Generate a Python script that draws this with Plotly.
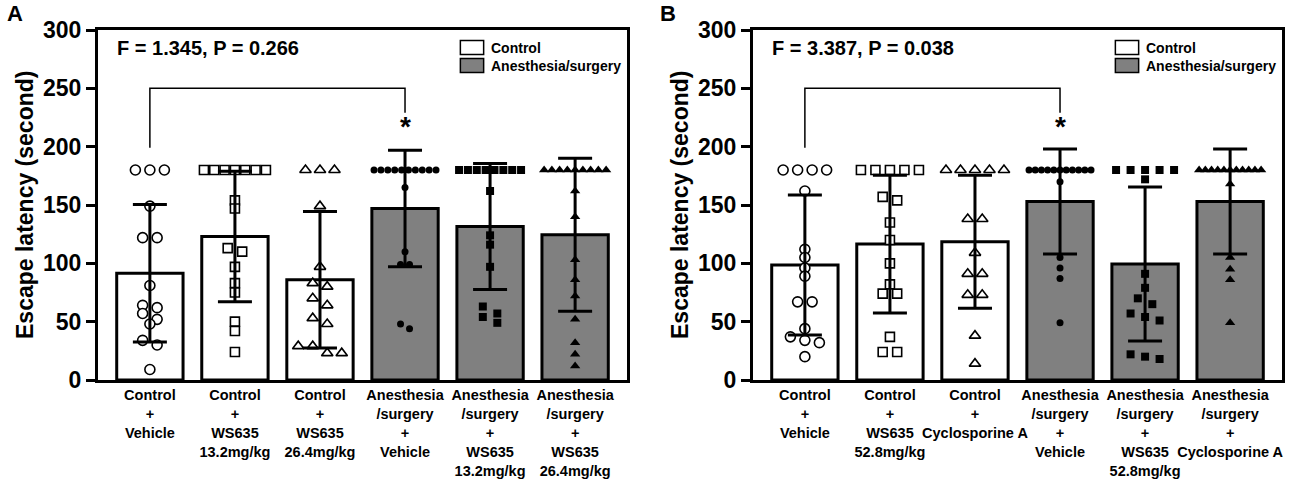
import plotly.graph_objects as go

# ---------------- data ----------------
labels_A = ["Control<br>+<br>Vehicle",
            "Control<br>+<br>WS635<br>13.2mg/kg",
            "Control<br>+<br>WS635<br>26.4mg/kg",
            "Anesthesia<br>/surgery<br>+<br>Vehicle",
            "Anesthesia<br>/surgery<br>+<br>WS635<br>13.2mg/kg",
            "Anesthesia<br>/surgery<br>+<br>WS635<br>26.4mg/kg"]
labels_B = ["Control<br>+<br>Vehicle",
            "Control<br>+<br>WS635<br>52.8mg/kg",
            "Control<br>+<br>Cyclosporine A",
            "Anesthesia<br>/surgery<br>+<br>Vehicle",
            "Anesthesia<br>/surgery<br>+<br>WS635<br>52.8mg/kg",
            "Anesthesia<br>/surgery<br>+<br>Cyclosporine A"]

mean_A = [91.5, 123, 86, 147, 131.5, 124.5]
sd_A = [59, 56, 58.5, 50, 54, 65.5]
mean_B = [98.5, 116.5, 118.5, 153, 99.5, 153]
sd_B = [60, 59, 57, 45, 66, 45]

pts_A = [
    [180, 180, 180, 149, 122, 122, 81, 64, 62, 57, 52, 48, 34, 30, 9],
    [180] * 7 + [154, 147, 113, 110, 97, 83, 75, 50, 42, 24],
    [180, 180, 180, 149, 97, 83, 80, 70, 64, 53, 48, 29, 29, 23, 23],
    [180] * 10 + [165, 110, 99, 99, 48, 44],
    [180] * 8 + [162, 124, 116, 97, 63, 57, 54, 49],
    [180] * 9 + [162, 140, 103, 86, 72, 52, 32, 22, 12],
]
pts_B = [
    [180] * 4 + [162, 112, 105, 96, 89, 67, 67, 44, 37, 34, 32, 20],
    [180] * 5 + [157, 154, 135, 120, 100, 82, 74, 74, 37, 24, 24],
    [180] * 5 + [138, 138, 109, 91, 91, 73, 73, 38, 14],
    [180] * 11 + [170, 105, 96, 87, 49],
    [180] * 5 + [172, 91, 79, 70, 65, 57, 54, 51, 22, 20, 18],
    [180] * 11 + [168, 105, 95, 86, 49],
]

stats_A = "F = 1.345, P = 0.266"
stats_B = "F = 3.387, P = 0.038"
legend_names = ["Control", "Anesthesia/surgery"]
y_ticks = [0, 50, 100, 150, 200, 250, 300]

# ---------------- styling ----------------
FONT = "Liberation Sans, Arial, sans-serif"
GRAY = "#808080"
bar_fill = ["white", "white", "white", GRAY, GRAY, GRAY]
symbols = ["circle", "square", "triangle-up"] * 2
open_flag = [True, True, True, False, False, False]

W, H = 1300, 486


def px(x):
    return x / W


def py(y):
    return 1 - y / H


top_px, bot_px = 30, 380
dom_A = [px(98), px(627)]
dom_B = [px(753), px(1282)]
dom_y = [py(bot_px), py(top_px)]
XR = [-0.61, 5.61]
KX = (627 - 98) / (XR[1] - XR[0])  # px per category unit
KY = (bot_px - top_px) / 300.0      # px per second


def swarm(vals, spacing, band=8.0, max_span=62.0):
    vs = sorted(vals, reverse=True)
    rows = []
    for v in vs:
        if rows and (rows[-1][0] - v) * KY < band:
            rows[-1].append(v)
        else:
            rows.append([v])
    xs, ys = [], []
    for r in rows:
        n = len(r)
        s = spacing if n == 1 else min(spacing, max_span / (n - 1))
        for i, v in enumerate(r):
            xs.append((i - (n - 1) / 2) * s / KX)
            ys.append(v)
    return xs, ys


fig = go.Figure()


def add_panel(xa, ya, means, sds, pts):
    xs = list(range(len(means)))
    fig.add_trace(go.Bar(x=xs, y=means, width=0.78, xaxis=xa, yaxis=ya,
                         marker=dict(color=bar_fill, line=dict(color="black", width=3)),
                         showlegend=False, hoverinfo="skip"))
    for i, p in enumerate(pts):
        op = open_flag[i]
        sym = symbols[i]
        if sym == "circle":
            size = 10 if op else 7
        elif sym == "square":
            size = 9 if op else 8
        else:
            size = 10 if op else 9
        spacing = 9.0 if (sym == "circle" and not op) else 14.5
        dx, yy = swarm(p, spacing)
        fig.add_trace(go.Scatter(
            x=[i + d for d in dx], y=yy, mode="markers", xaxis=xa, yaxis=ya,
            marker=dict(symbol=sym, size=size,
                        color="white" if op else "black",
                        line=dict(color="black", width=1.6 if op else 0)),
            showlegend=False, hoverinfo="skip"))
    fig.add_trace(go.Scatter(
        x=xs, y=means, mode="markers", xaxis=xa, yaxis=ya,
        marker=dict(size=1, color="rgba(0,0,0,0)"),
        error_y=dict(type="data", array=sds, visible=True, color="black",
                     thickness=3, width=17),
        showlegend=False, hoverinfo="skip"))


add_panel("x", "y", mean_A, sd_A, pts_A)
add_panel("x2", "y2", mean_B, sd_B, pts_B)

axis_common_x = dict(range=XR, showline=True, linewidth=3, linecolor="black",
                     mirror=True, ticks="", showgrid=False, zeroline=False,
                     tickangle=0, automargin=False,
                     tickfont=dict(family=FONT, size=14.5, color="black", weight="bold"))
axis_common_y = dict(range=[0, 300], tickvals=y_ticks, showline=True, linewidth=3,
                     linecolor="black", mirror=True, ticks="outside", ticklen=9,
                     tickwidth=3, tickcolor="black", showgrid=False, zeroline=False,
                     automargin=False,
                     tickfont=dict(family=FONT, size=23, color="black", weight="bold"))

fig.update_layout(
    width=W, height=H, margin=dict(l=0, r=0, t=0, b=0, autoexpand=False),
    paper_bgcolor="white", plot_bgcolor="white",
    xaxis=dict(domain=dom_A, anchor="y", tickvals=list(range(6)), ticktext=labels_A, **axis_common_x),
    yaxis=dict(domain=dom_y, anchor="x", **axis_common_y),
    xaxis2=dict(domain=dom_B, anchor="y2", tickvals=list(range(6)), ticktext=labels_B, **axis_common_x),
    yaxis2=dict(domain=dom_y, anchor="x2", **axis_common_y),
    bargap=0.2,
)

shapes = []
annotations = []
for xr, yr, stats, letter, xl in [("x", "y", stats_A, "A", 15), ("x2", "y2", stats_B, "B", 668)]:
    # significance bracket between group 1 and group 4
    shapes.append(dict(type="path", xref=xr, yref=yr,
                       path="M 0 199 L 0 250 L 3 250 L 3 229",
                       line=dict(color="black", width=1.5)))
    annotations.append(dict(x=3, y=217, xref=xr, yref=yr, text="<b>*</b>", showarrow=False,
                            font=dict(family=FONT, size=28, color="black"), yanchor="middle"))
    # stats text
    annotations.append(dict(x=0.032, y=285, xref=xr + " domain", yref=yr, text="<b>" + stats + "</b>",
                            showarrow=False, xanchor="left", yanchor="middle",
                            font=dict(family=FONT, size=20, color="black")))
    # legend
    for k, (nm, col) in enumerate(zip(legend_names, ["white", GRAY])):
        yc = 285 - k * 15.5
        shapes.append(dict(type="rect", xref=xr + " domain", yref=yr,
                           x0=0.685, x1=0.729, y0=yc - 6, y1=yc + 6,
                           fillcolor=col, line=dict(color="black", width=1.5)))
        annotations.append(dict(x=0.74, y=yc, xref=xr + " domain", yref=yr, text="<b>" + nm + "</b>",
                                showarrow=False, xanchor="left", yanchor="middle",
                                font=dict(family=FONT, size=14, color="black")))
    # panel letter
    annotations.append(dict(x=px(xl), y=py(14), xref="paper", yref="paper", text="<b>" + letter + "</b>",
                            showarrow=False, xanchor="center", yanchor="middle",
                            font=dict(family=FONT, size=22, color="black")))

# y titles
for xp in [25, 680]:
    annotations.append(dict(x=px(xp), y=py(205), xref="paper", yref="paper",
                            text="<b>Escape latency (second)</b>", textangle=-90, showarrow=False,
                            xanchor="center", yanchor="middle",
                            font=dict(family=FONT, size=23, color="black")))

fig.update_layout(shapes=shapes, annotations=annotations)
fig.write_html("out.html", config={"displayModeBar": False},
               post_script="document.body.style.margin='0';document.body.style.overflow='hidden';")
